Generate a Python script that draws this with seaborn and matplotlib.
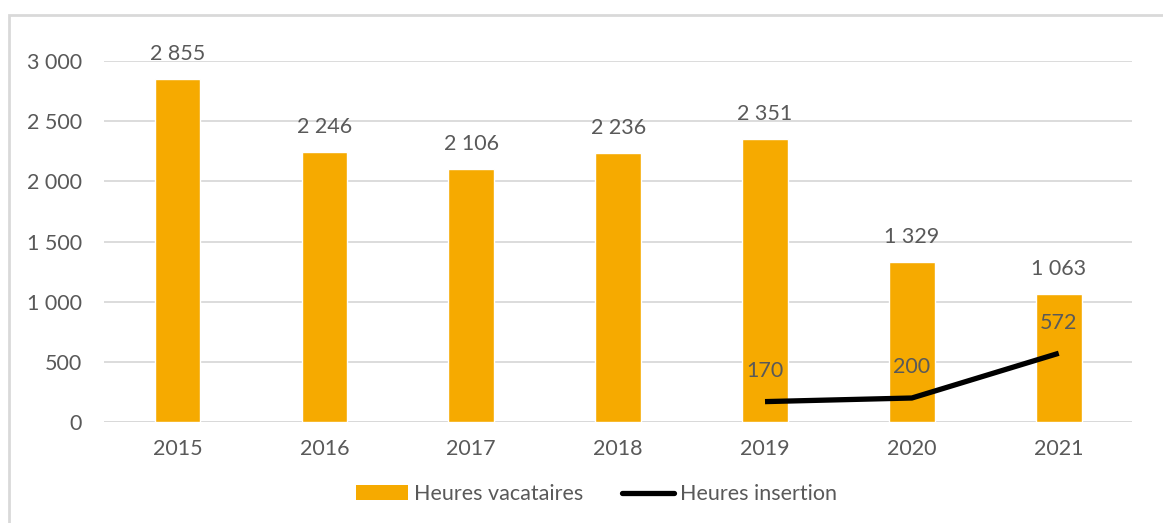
import matplotlib
matplotlib.use("Agg")
import matplotlib.pyplot as plt
import seaborn as sns
import pandas as pd
from matplotlib.patches import Patch, Rectangle
from matplotlib.lines import Line2D

# --- données ---
years = ["2015", "2016", "2017", "2018", "2019", "2020", "2021"]
heures_vacataires = [2855, 2246, 2106, 2236, 2351, 1329, 1063]
insertion_years = ["2019", "2020", "2021"]
heures_insertion = [170, 200, 572]
y_ticks = [0, 500, 1000, 1500, 2000, 2500, 3000]

BAR_COLOR = "#F6AA00"
TEXT_COLOR = "#595959"
GRID_COLOR = "#D9D9D9"


def fmt(v):
    # séparateur de milliers à la française
    return f"{v:,}".replace(",", " ")


sns.set_theme(style="white")
plt.rcParams["font.family"] = ["Lato", "DejaVu Sans"]
FS = 15.5

df_bars = pd.DataFrame({"annee": years, "heures": heures_vacataires})
df_line = pd.DataFrame({
    "pos": [years.index(y) for y in insertion_years],
    "heures": heures_insertion,
})

fig = plt.figure(figsize=(11.63, 5.23), dpi=100)
ax = fig.add_axes([0.0895, 0.193, 0.884, 0.690])

sns.barplot(data=df_bars, x="annee", y="heures", ax=ax, color=BAR_COLOR,
            width=0.31, saturation=1, zorder=2)
sns.lineplot(data=df_line, x="pos", y="heures", ax=ax, color="black",
             linewidth=3.8, zorder=3, solid_capstyle="butt")

# étiquettes des barres
for i, v in enumerate(heures_vacataires):
    ax.annotate(fmt(v), (i, v), xytext=(0, 18), textcoords="offset points",
                ha="center", va="center", fontsize=FS, color=TEXT_COLOR)
# étiquettes de la courbe
for x, v in zip(df_line["pos"], heures_insertion):
    ax.annotate(fmt(v), (x, v), xytext=(0, 22), textcoords="offset points",
                ha="center", va="center", fontsize=FS, color=TEXT_COLOR, zorder=4)

ax.set_xlim(-0.5, len(years) - 0.5)
ax.set_ylim(0, 3000)
ax.set_yticks(y_ticks)
ax.set_yticklabels([fmt(t) for t in y_ticks])
ax.yaxis.grid(True, color=GRID_COLOR, linewidth=1.3, zorder=0)
ax.set_axisbelow(True)
ax.tick_params(axis="both", labelsize=FS, colors=TEXT_COLOR, length=0)
ax.tick_params(axis="y", pad=16)
ax.tick_params(axis="x", pad=12)
ax.set_xlabel("")
ax.set_ylabel("")
for s in ax.spines.values():
    s.set_visible(False)
ax.axhline(0, color=GRID_COLOR, linewidth=1.3, zorder=1)

handles = [
    Patch(facecolor=BAR_COLOR, edgecolor="none", label="Heures vacataires"),
    Line2D([0], [0], color="black", linewidth=3.8, label="Heures insertion"),
]
leg = fig.legend(handles=handles, loc="center", bbox_to_anchor=(0.513, 0.055),
                 ncol=2, frameon=False, fontsize=FS, handlelength=2.4,
                 handleheight=0.65, handletextpad=0.3, columnspacing=1.8)
for t in leg.get_texts():
    t.set_color(TEXT_COLOR)

# cadre du graphique
fig.patches.append(Rectangle((9 / 1163, -0.05), 1.2, 1 - 15 / 523 + 0.05,
                             transform=fig.transFigure, fill=False,
                             edgecolor=GRID_COLOR, linewidth=2))

fig.savefig("out.png", dpi=100)
